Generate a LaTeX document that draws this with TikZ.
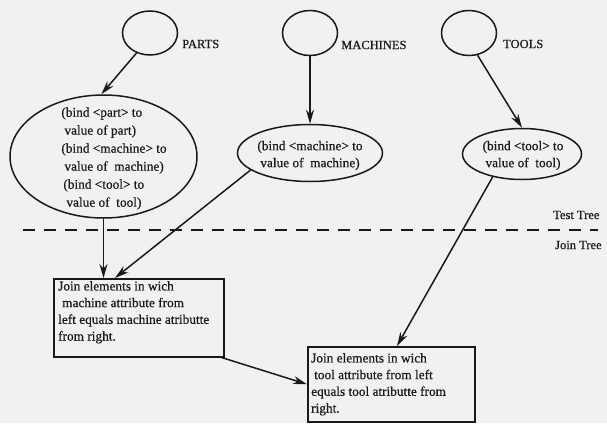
\documentclass[tikz,border=0pt]{standalone}
\usepackage{fontspec}
\setmainfont[FakeBold=0.6]{Liberation Serif}
\usetikzlibrary{shapes.geometric,arrows.meta,calc}
\definecolor{ink}{RGB}{25,25,25}
\definecolor{bgc}{RGB}{241,241,239}
\begin{document}
\begin{tikzpicture}[x=1pt,y=-1pt,
  ln/.style={line width=1.5pt, draw=ink},
  arr/.style={ln, -{Stealth[length=14pt,width=8pt]}},
  oval/.style={ellipse, draw=ink, line width=1.5pt, inner sep=0pt},
  boxnode/.style={rectangle, draw=ink, line width=1.5pt, inner sep=0pt, anchor=north west},
  txt/.style={font=\fontsize{13.3}{18}\selectfont, inner sep=0pt, text=ink},
  btxt/.style={font=\fontsize{13.3}{16.7}\selectfont, inner sep=0pt, text=ink, align=left, anchor=north west},
  lab/.style={font=\fontsize{12.5}{14}\selectfont, inner sep=0pt, text=ink, anchor=west},
  sepline/.style={draw=ink, line width=2pt, dash pattern=on 12pt off 9pt}
]
\fill[bgc] (0,0) rectangle (607,423);
\useasboundingbox (0,0) rectangle (607,423);

% source circles
\node[oval, minimum width=55pt, minimum height=44pt] (parts) at (150,33) {};
\node[lab] (lparts) at (182,44) {PARTS};
\node[oval, minimum width=55pt, minimum height=45pt] (machines) at (310,33) {};
\node[lab] (lmach) at (341,45) {MACHINES};
\node[oval, minimum width=55pt, minimum height=45pt] (tools) at (469,33) {};
\node[lab] (ltools) at (503,44) {TOOLS};

% test ellipses
\node[oval, minimum width=187pt, minimum height=123pt] (big) at (103.5,156.5) {};
\node[txt, align=left] (bigtxt) at (114,158.5) {(bind <part> to\\
\hspace{3pt}value of part)\\
(bind <machine> to\\
\hspace{3pt}value of\ \ machine)\\
\hspace{2pt}(bind <tool> to\\
\hspace{5pt}value of\ \ tool)};

\node[oval, minimum width=145pt, minimum height=57pt] (mach) at (310,153) {};
\node[txt, align=center, font=\fontsize{13.3}{17}\selectfont] (machtxt) at (310,155.5) {(bind <machine> to\\ value of\ \ machine)};

\node[oval, minimum width=119pt, minimum height=51pt] (tool) at (522,154) {};
\node[txt, align=center, font=\fontsize{13.3}{17}\selectfont] (tooltxt) at (523,155.5) {(bind <tool> to\\ value of\ \ tool)};

% separator
\coordinate (sepL) at (23,230);
\coordinate (sepR) at (598,230);
\draw[sepline] (sepL) -- (sepR);
\node[lab] (ltest) at (553,215) {Test Tree};
\node[lab] (ljoin) at (555,245) {Join Tree};

% join boxes
\node[boxnode, minimum width=170pt, minimum height=78pt] (box1) at (53,278) {};
\node[btxt] (box1txt) at (58,281) {Join elements in wich\\
\hspace{4pt}machine attribute from\\
left equals machine atributte\\
from right.};

\node[boxnode, minimum width=167pt, minimum height=75pt] (box2) at (307,346) {};
\node[btxt] (box2txt) at (311,353) {Join elements in wich\\
\hspace{3pt}tool attribute from left\\
equals tool atributte from\\
right.};

% connectors
\draw[arr] (parts.236) -- (big.92);
\draw[arr] (machines.south) -- (mach.north);
\draw[arr] (tools.291) -- (tool.north);
\draw[arr] (big.south) -- (big.south |- box1.north);
\draw[arr] (mach.196) -- ($(box1.north west)+(62,0)$);
\draw[arr] (tool.218) -- ($(box2.north west)+(90,0)$);
\draw[arr] ($(box1.south east)+(-3,0)$) -- (box2.west);
\end{tikzpicture}
\end{document}
